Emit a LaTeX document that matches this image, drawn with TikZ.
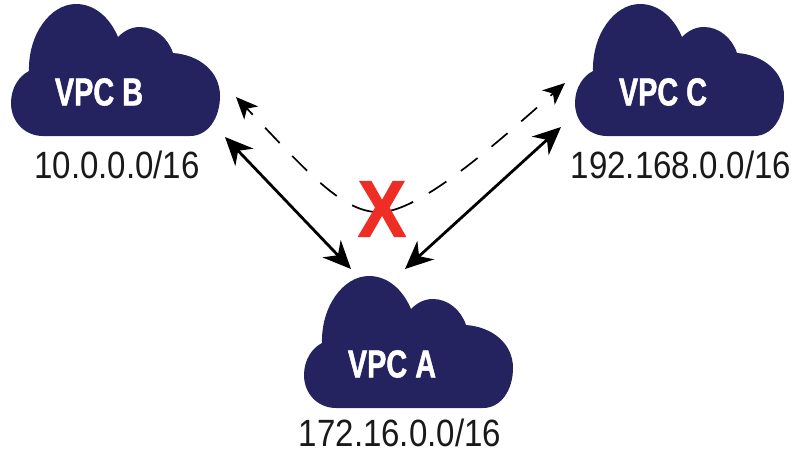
\documentclass[tikz,border=0pt]{standalone}
\usepackage{fontspec}
\usepackage{tikz}
\usetikzlibrary{calc}
\usetikzlibrary{arrows.meta}

\newfontfamily\vpcfont[FakeStretch=0.74,FakeBold=1.2]{Liberation Sans}
\newfontfamily\cidrfont[FakeStretch=0.87]{Liberation Sans}
\newfontfamily\crossfont[FakeStretch=0.9,FakeBold=1.5]{Liberation Sans}
\definecolor{vpcblue}{HTML}{24235F}
\definecolor{crossred}{HTML}{EE2E24}

\tikzset{
	cloudbody/.pic={
		\fill[vpcblue] (43,136) .. controls (25,136) and (11,122) .. (11,103)
			.. controls (11,88) and (19,76) .. (29,71)
			.. controls (28,35) and (50,4) .. (76,4)
			.. controls (95,4) and (110,18) .. (118,37)
			.. controls (124,31) and (131,27) .. (140,27)
			.. controls (155,27) and (168,38) .. (173,53)
			.. controls (200,55) and (220,72) .. (220,96)
			.. controls (220,118) and (208,136) .. (190,136) -- cycle;
	},
	vpclabel/.style={text=white, font=\vpcfont\bfseries\fontsize{39}{39}\selectfont, inner sep=0pt},
	cidrlabel/.style={text=black!90, font=\cidrfont\fontsize{38}{38}\selectfont, inner sep=0pt},
	peering/.style={line width=2.8pt, black, {Stealth[length=28pt,width=25pt,inset=9pt]}-{Stealth[length=28pt,width=25pt,inset=9pt]}},
	blocked/.style={line width=1.7pt, black, dash pattern=on 32pt off 18pt on 21pt off 18pt on 21pt off 18pt on 21pt off 18pt on 21pt off 18pt on 21pt off 18pt on 21pt off 18pt, -{Stealth[length=22pt,width=19pt,inset=6pt]}}
}

\begin{document}
\begin{tikzpicture}[x=1pt,y=-1pt]
			\useasboundingbox (0,0) rectangle (808,461);
			\coordinate (sidro) at (0,0);

			\coordinate (cB) at (sidro);
			\coordinate (cC) at ($(sidro)+(564,0)$);
			\coordinate (cA) at ($(sidro)+(293,272)$);

			\pic at (cB) {cloudbody};
			\pic at (cC) {cloudbody};
			\pic at (cA) {cloudbody};

			\node[vpclabel] (vpcB) at ($(cB)+(99,92)$) {VPC B};
			\node[vpclabel] (vpcC) at ($(cC)+(99,92)$) {VPC C};
			\node[vpclabel] (vpcA) at ($(cA)+(99,92)$) {VPC A};

			\node[cidrlabel] (netB) at ($(cB)+(117,165)$) {10.0.0.0/16};
			\node[cidrlabel] (netC) at ($(cC)+(117,165)$) {192.168.0.0/16};
			\node[cidrlabel] (netA) at ($(cA)+(107,161)$) {172.16.0.0/16};

			%arrow ends stop short of the clouds
			\coordinate (pB) at ($(sidro)+(225,137)$);
			\coordinate (pC) at ($(sidro)+(561,127)$);
			\coordinate (pAl) at ($(cA)+(58,-3)$);
			\coordinate (pAr) at ($(cA)+(112,-3)$);
			\coordinate (dB) at ($(sidro)+(236,97)$);
			\coordinate (dC) at ($(sidro)+(565,83)$);
			\coordinate (dip) at ($(sidro)+(383,212)$);

			\draw[peering] (pB) -- (pAl);
			\draw[peering] (pC) -- (pAr);
			\draw[blocked] (dip) .. controls (345,215) and (310,175) .. (dB);
			\draw[blocked] (dip) .. controls (425,208) and (500,140) .. (dC);

			\node[text=crossred, font=\crossfont\bfseries\fontsize{80}{80}\selectfont, inner sep=0pt] (cross) at (382,209) {X};
		\end{tikzpicture}
\end{document}
